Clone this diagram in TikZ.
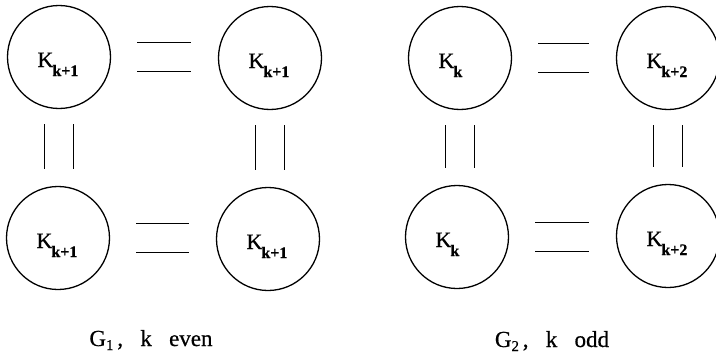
\documentclass[tikz,border=0pt]{standalone}
\usepackage{fontspec}
\setmainfont{Liberation Serif}
% slightly heavier serif for all labels
\newfontfamily\inkfont[FakeBold=0.6]{Liberation Serif}
% K with a lowered bold index, set in a fixed-width left-aligned box
\newcommand\Kidx[1]{\makebox[43pt][l]{K\kern-1pt\raisebox{-9pt}{\fontsize{16}{16}\selectfont\bfseries #1}}}
% graph caption G_i, condition
\newcommand\Gcap[2]{G\raisebox{-4pt}{\fontsize{15}{15}\selectfont #1}\,,\ \ \ k\ \ \ #2}
\tikzset{
  ball/.style={circle,draw,line width=1.3pt,minimum size=103pt,inner sep=0pt,
    text height=20pt,text depth=0pt,font=\inkfont\fontsize{22}{22}\selectfont},
  bond/.style={line width=1.3pt},
  hbond/.style={bond,shorten <=26pt,shorten >=27pt},
  vbond/.style={bond,shorten <=15pt,shorten >=16.5pt},
  caption/.style={anchor=base,inner sep=0pt,font=\inkfont\fontsize{23}{23}\selectfont},
}
% double (equality) connectors between two circles, kept straight
\newcommand\hpair[2]{%
  \draw[hbond] ([yshift=14.5pt]#1.east) -- ([yshift=14.5pt]#1.east -| #2.west);
  \draw[hbond] ([yshift=-14.5pt]#1.east) -- ([yshift=-14.5pt]#1.east -| #2.west);}
\newcommand\vpair[2]{%
  \draw[vbond] ([xshift=-14.5pt]#1.south) -- ([xshift=-14.5pt]#1.south |- #2.north);
  \draw[vbond] ([xshift=14.5pt]#1.south) -- ([xshift=14.5pt]#1.south |- #2.north);}
\begin{document}
\begin{tikzpicture}[x=1pt,y=-1pt]
  \useasboundingbox (0,0) rectangle (716,359);
  % G1
  \node[ball] (a1) at (59,57)   {\Kidx{k+1}};
  \node[ball] (a2) at (270,58)  {\Kidx{k+1}};
  \node[ball] (a3) at (58,238)  {\Kidx{k+1}};
  \node[ball] (a4) at (268,239) {\Kidx{k+1}};
  \hpair{a1}{a2}
  \hpair{a3}{a4}
  \vpair{a1}{a3}
  \vpair{a2}{a4}
  \node[caption] (c1) at (151,346) {\Gcap{1}{even}};
  % G2
  \node[ball] (b1) at (460,58)  {\Kidx{k}};
  \node[ball] (b2) at (668,58)  {\Kidx{k+2}};
  \node[ball] (b3) at (457,237) {\Kidx{k}};
  \node[ball] (b4) at (668,236) {\Kidx{k+2}};
  \hpair{b1}{b2}
  \hpair{b3}{b4}
  \vpair{b1}{b3}
  \vpair{b2}{b4}
  \node[caption] (c2) at (552,347) {\Gcap{2}{odd}};
\end{tikzpicture}
\end{document}
